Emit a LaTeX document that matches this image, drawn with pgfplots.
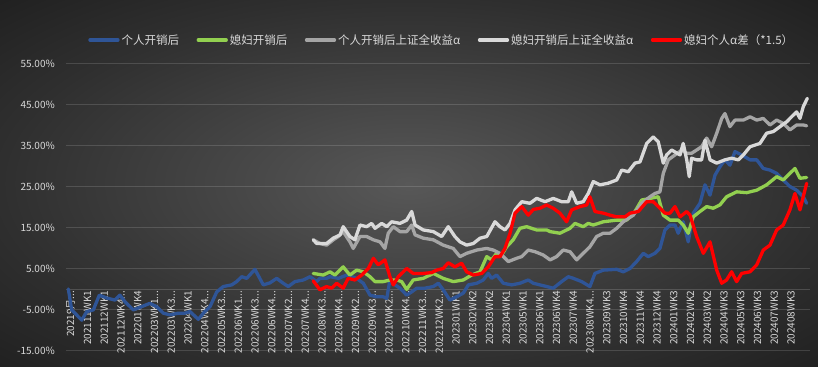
\documentclass[border=0pt]{standalone}
\usepackage{fontspec}
\setmainfont{Noto Sans CJK SC}
\usepackage{pgfplots}
\pgfplotsset{compat=1.18}
\usepackage{pgfplotstable}
\newcommand{\td}{...}
\definecolor{cblue}{HTML}{2F5597}
\definecolor{cgreen}{HTML}{92D050}
\definecolor{cgray}{HTML}{A5A5A5}
\definecolor{cwhite}{HTML}{D9D9D9}
\definecolor{cred}{HTML}{FF0000}
\definecolor{txt}{HTML}{D9D9D9}
\definecolor{bgin}{HTML}{585858}
\definecolor{bgmid}{HTML}{2F2F2F}
\definecolor{bgout}{HTML}{202020}
\pgfdeclareradialshading{chartbg}{\pgfpoint{0bp}{0bp}}{color(0bp)=(bgin); color(25bp)=(bgmid); color(36bp)=(bgout); color(50bp)=(bgout)}

\pgfplotstableread{
x y
-0.14 0.0
0.06 -5.1
0.66 -7.6
0.96 -5.5
1.35 -5.1
1.71 -1.5
2.15 -2.2
2.64 -2.7
2.94 -1.5
3.24 -3.1
3.74 -5.1
4.24 -4.3
4.73 -3.5
5.13 -4.3
5.53 -5.9
5.93 -6.3
6.42 -5.9
6.82 -5.9
7.12 -5.5
7.62 -7.4
7.92 -5.9
8.32 -4.3
8.72 -0.7
9.11 0.6
9.61 1.0
9.91 1.8
10.21 3.0
10.51 2.6
11.0 4.8
11.5 1.0
11.9 1.5
12.3 2.6
12.69 1.4
12.99 0.6
13.39 1.8
13.89 2.2
14.29 3.0
14.69 1.8
14.88 2.6
15.28 2.6
15.48 3.0
15.98 2.6
16.48 3.4
17.07 2.6
17.47 1.4
17.87 -1.5
18.27 -1.9
18.66 -1.9
18.87 -2.3
19.06 2.2
19.36 1.0
19.66 0.2
20.06 -1.5
20.36 -0.7
20.66 0.2
21.15 0.2
21.65 0.6
21.95 1.4
22.24 -0.2
22.64 -2.7
23.04 -1.9
23.44 -1.0
23.74 1.0
24.24 1.4
24.63 2.2
24.93 3.8
25.13 2.6
25.43 3.4
25.83 1.4
26.33 1.0
26.82 1.4
27.32 2.2
27.62 1.4
28.02 1.0
28.42 0.6
28.81 0.2
29.31 1.8
29.71 3.0
30.01 2.6
30.51 1.8
31.0 0.6
31.3 3.8
31.8 4.6
32.6 4.8
32.99 4.2
33.39 5.0
33.79 6.7
34.19 8.7
34.48 7.9
34.88 8.7
35.18 9.9
35.48 14.4
35.78 15.6
36.08 15.6
36.27 13.6
36.57 16.4
36.87 11.5
37.17 18.5
37.57 20.9
37.87 25.4
38.17 22.9
38.47 27.8
38.76 29.8
39.06 31.5
39.36 30.2
39.66 33.5
40.06 32.7
40.56 31.5
40.96 31.5
41.35 29.4
41.75 29.0
42.15 28.2
42.54 26.6
42.94 25.0
43.34 24.1
43.74 22.5
43.94 20.9
}\tblue

\pgfplotstableread{
x y
14.48 3.8
15.08 3.4
15.48 4.2
15.78 3.4
16.27 5.4
16.67 3.4
17.07 4.6
17.47 4.2
17.87 3.0
18.17 1.8
18.66 1.8
19.06 2.2
19.46 2.2
19.76 1.8
20.06 -0.1
20.45 2.2
21.05 2.6
21.65 3.8
22.24 2.6
22.84 1.8
23.44 2.2
23.94 3.4
24.44 4.2
24.84 7.9
25.13 7.1
25.43 8.7
25.73 8.3
26.03 10.3
26.42 12.0
26.82 14.8
27.22 15.2
27.82 14.4
28.42 14.4
28.62 14.0
29.21 13.6
29.81 14.8
30.11 16.0
30.6 15.2
30.9 16.0
31.2 15.6
31.8 16.4
32.6 16.8
33.19 16.8
33.69 18.9
34.09 21.7
34.59 22.1
35.08 22.5
35.38 18.0
35.78 16.8
36.27 16.8
36.57 15.6
36.87 13.6
37.17 17.6
37.57 18.9
37.97 20.1
38.36 19.7
38.76 20.5
39.16 22.5
39.76 23.7
40.36 23.5
40.96 24.1
41.55 25.4
42.15 27.4
42.54 26.6
43.24 29.4
43.54 27.0
43.94 27.2
}\tgreen

\pgfplotstableread{
x y
14.48 12.0
14.88 11.1
15.28 10.7
15.68 12.0
15.98 12.8
16.27 14.0
16.67 11.5
16.87 9.9
17.27 12.8
17.67 12.8
18.07 12.0
18.47 11.5
18.76 9.9
18.96 13.6
19.26 15.2
19.66 14.0
20.06 14.0
20.36 15.6
20.56 13.2
21.05 12.4
21.65 12.0
22.24 10.7
22.84 9.9
23.24 7.9
23.64 8.7
24.24 9.5
24.84 9.9
25.23 9.5
25.63 8.7
25.83 7.9
26.13 6.7
26.63 7.5
26.93 7.9
27.32 9.5
27.72 9.1
28.21 8.3
28.62 7.1
29.01 7.9
29.41 9.5
29.81 9.1
30.21 7.1
30.6 8.7
31.0 10.3
31.4 12.8
31.8 13.6
32.2 13.6
32.6 14.8
32.99 16.4
33.59 18.0
34.09 20.9
34.59 22.5
34.88 23.3
35.18 23.7
35.38 28.2
35.68 31.5
36.08 32.7
36.48 33.9
36.78 33.1
37.07 33.1
37.37 33.9
37.67 34.7
37.97 36.8
38.27 34.7
38.57 38.0
38.87 41.6
39.06 42.8
39.36 39.6
39.66 41.2
40.16 41.2
40.56 42.0
40.96 41.2
41.35 41.6
41.75 40.0
42.15 41.2
42.54 40.4
42.94 38.8
43.34 40.0
43.74 40.0
43.94 39.8
}\tgray

\pgfplotstableread{
x y
14.48 12.0
14.69 11.1
15.28 11.1
15.68 12.4
16.08 13.2
16.27 15.2
16.67 12.8
16.97 12.0
17.27 15.6
17.67 15.2
17.97 16.0
18.17 14.8
18.57 16.0
18.87 15.2
19.16 16.4
19.66 16.0
20.06 16.8
20.36 18.9
20.56 15.6
21.05 14.4
21.65 14.0
22.15 12.8
22.54 15.2
22.94 12.8
23.24 11.5
23.64 10.7
24.04 11.1
24.44 12.4
24.84 12.8
25.33 16.4
25.63 15.2
25.93 14.4
26.23 16.0
26.53 19.3
26.93 21.3
27.42 20.9
27.82 22.1
28.32 21.3
28.81 22.1
29.31 21.3
29.71 21.3
29.91 23.7
30.21 20.9
30.6 21.3
30.9 23.3
31.2 26.2
31.6 25.4
32.09 25.8
32.6 26.6
32.9 29.0
33.29 28.6
33.69 30.7
33.99 31.0
34.39 35.5
34.78 37.1
35.08 35.9
35.38 30.7
35.58 32.7
35.88 33.9
36.38 32.7
36.57 35.5
36.78 31.5
36.93 27.4
37.07 31.9
37.37 31.5
37.67 31.5
37.87 36.3
38.17 31.5
38.57 30.7
39.06 31.5
39.46 31.9
39.86 31.5
40.16 32.7
40.56 34.7
41.15 35.5
41.55 38.0
41.95 38.4
42.35 39.6
42.75 40.8
43.04 42.0
43.34 43.2
43.54 41.6
43.74 44.5
43.98 46.5
}\twhite

\pgfplotstableread{
x y
14.48 2.0
14.88 -0.2
15.28 0.6
15.58 0.2
15.88 1.4
16.27 0.2
16.57 2.6
16.97 2.2
17.37 3.4
17.77 5.0
18.07 7.5
18.36 5.9
18.76 7.1
19.06 3.0
19.26 1.0
19.56 3.0
20.06 5.0
20.45 3.8
21.05 3.8
21.55 4.0
21.85 4.6
22.24 5.0
22.54 6.4
22.94 5.4
23.34 6.3
23.64 4.2
24.04 3.4
24.54 3.8
24.93 5.4
25.33 7.9
25.63 7.9
25.93 9.9
26.23 13.6
26.53 18.5
26.93 20.1
27.32 18.0
27.62 19.4
28.02 19.7
28.42 20.5
28.81 19.7
29.21 18.5
29.61 16.4
29.91 19.3
30.41 20.1
30.81 20.5
31.0 22.5
31.3 18.9
31.8 18.5
32.2 18.0
32.6 17.6
33.09 17.6
33.39 18.5
33.89 18.9
34.39 21.3
34.78 21.3
35.08 20.1
35.48 18.5
35.78 18.5
36.08 20.1
36.38 17.6
36.78 18.9
36.98 18.0
37.37 12.8
37.77 8.7
38.17 11.5
38.57 4.6
38.87 1.4
39.16 2.2
39.46 4.2
39.76 1.8
40.06 3.8
40.56 4.2
40.96 5.9
41.35 9.5
41.75 10.7
42.15 14.4
42.54 15.6
42.94 19.3
43.24 23.3
43.54 19.3
43.94 25.8
}\tred

\begin{document}
\begin{tikzpicture}
\useasboundingbox (-66bp,-16.5bp) rectangle (752bp,350.5bp);
\shade[shading=chartbg] (-66bp,-16.5bp) rectangle (752bp,350.5bp);
\begin{axis}[
  at={(0,0)}, anchor=south west,
  scale only axis, width=744bp, height=287bp,
  xmin=-0.28, xmax=44.14, ymin=-15, ymax=55,
  axis x line*=middle, axis y line*=left,
  hide obscured x ticks=false,
  x axis line style={draw=white, draw opacity=0.16, line width=0.8bp},
  y axis line style={draw=none},
  ytick={-15,-5,5,15,25,35,45,55},
  yticklabels={-15.00\%,-5.00\%,5.00\%,15.00\%,25.00\%,35.00\%,45.00\%,55.00\%},
  xtick={0,...,43},
  xticklabels={20219月\td,202111WK1,202112WK1,202112WK4\td,202201WK4,202203WK1\td,202203WK3\td,202204WK1,202204WK4\td,202205WK3\td,202206WK1\td,202206WK3\td,202206WK4\td,202207WK2\td,202207WK4\td,202208WK3\td,202208WK4\td,202209WK2\td,202209WK3\td,202210WK2\td,202210WK4\td,202211WK3\td,202212WK2\td,202301WK1,202302WK2,202303WK2,202304WK1,202305WK1,202306WK1,202306WK4,202307WK4,202308WK4\td,202309WK3,202310WK4,202311WK4,202312WK4,202401WK3,202402WK2,202403WK2,202404WK3,202405WK3,202406WK3,202407WK3,202408WK3},
  major tick length=0pt,
  tick style={draw=none},
  ymajorgrids, grid style={draw=white, draw opacity=0.14, line width=0.8bp},
  ticklabel style={text=txt, font=\fontsize{10bp}{12bp}\selectfont},
  xticklabel style={rotate=90, anchor=east, inner sep=1.5bp},
  yticklabel style={inner sep=0pt, xshift=-11bp},
  every axis plot/.append style={line width=3.3bp, line join=round, line cap=round},
  no markers,
  legend columns=5,
  legend cell align=left,
  legend image code/.code={\draw[#1] (0bp,0bp) -- (28bp,0bp);},
  legend style={at={(0.505,1.082)}, anchor=center, draw=none, fill=none,
    text=txt, font=\fontsize{11.5bp}{13bp}\selectfont,
    /tikz/every even column/.append style={column sep=15.5bp}},
]
\addplot[cblue] table[x=x,y=y]{\tblue};
\addlegendentry{个人开销后}
\addplot[cgreen] table[x=x,y=y]{\tgreen};
\addlegendentry{媳妇开销后}
\addplot[cgray] table[x=x,y=y]{\tgray};
\addlegendentry{个人开销后上证全收益α}
\addplot[cwhite] table[x=x,y=y]{\twhite};
\addlegendentry{媳妇开销后上证全收益α}
\addplot[cred] table[x=x,y=y]{\tred};
\addlegendentry{媳妇个人α差（*1.5）}
\end{axis}
\end{tikzpicture}
\end{document}
